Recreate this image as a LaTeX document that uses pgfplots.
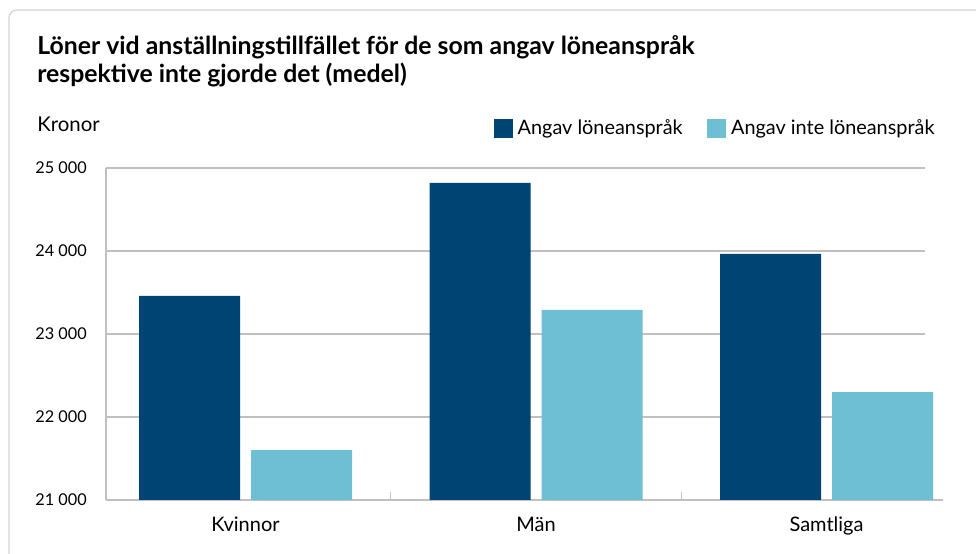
\documentclass[border=0pt]{standalone}
\usepackage{fontspec}
\setmainfont{Lato}
\usepackage{pgfplots}
\pgfplotsset{compat=1.18}
\definecolor{darkb}{HTML}{004474}
\definecolor{lightb}{HTML}{6EBED4}
\definecolor{gridg}{HTML}{C0C0C0}
\definecolor{boxg}{HTML}{D4D4D4}
\begin{document}
\begin{tikzpicture}
\path[use as bounding box] (0,0) rectangle (732pt,415.5pt);
\clip (0,0) rectangle (732pt,415.5pt);
\draw[boxg, line width=1pt, rounded corners=6pt] (6.75pt,-20pt) rectangle (760pt,408pt);
\node[anchor=base west, inner sep=0pt] at (27.75pt,374.25pt) {\fontsize{18.6}{20}\selectfont\bfseries Löner vid anställningstillfället för de som angav löneanspråk};
\node[anchor=base west, inner sep=0pt] at (27.75pt,353.5pt) {\fontsize{18.6}{20}\selectfont\bfseries respektive inte gjorde det (medel)};
\node[anchor=base west, inner sep=0pt] at (27.75pt,316.5pt) {\fontsize{15.3}{16}\selectfont Kronor};
\begin{axis}[
  at={(79.5pt,40.5pt)}, anchor=south west,
  scale only axis, width=627.75pt, height=249pt,
  xmin=-0.4802, xmax=2.4010, ymin=21000, ymax=25000,
  scaled y ticks=false,
  axis line style={draw=none}, tick style={draw=none}, major tick length=0pt,
  ytick={21000,22000,23000,24000,25000},
  yticklabels={21 000,22 000,23 000,24 000,25 000},
  xtick={0,1,2}, xticklabels={Kvinnor,Män,Samtliga},
  yticklabel style={anchor=east, inner sep=0pt, xshift=-14.25pt, font=\fontsize{12.2}{13}\selectfont},
  xticklabel style={anchor=base, inner sep=0pt, yshift=-23.5pt, font=\fontsize{15}{16}\selectfont},
  clip=false,
  legend style={at={(0.4636,1.1536)}, anchor=north west, draw=none, fill=none,
    inner sep=0pt, outer sep=0pt, font=\fontsize{14.9}{16}\selectfont,
    /tikz/every odd column/.style={column sep=1.5pt},
    /tikz/every even column/.style={column sep=16.5pt}},
  legend columns=2, legend cell align=left,
  legend image code/.code={\fill[#1] (0pt,-7.125pt) rectangle (14.25pt,7.125pt);},
]
\draw[gridg, line width=1.1pt] (axis cs:-0.4802,21000) -- (axis cs:-0.4802,25000);
\draw[gridg, line width=1.1pt] (axis cs:-0.4802,22000) -- (axis cs:2.339,22000);
\draw[gridg, line width=1.1pt] (axis cs:-0.4802,23000) -- (axis cs:2.339,23000);
\draw[gridg, line width=1.1pt] (axis cs:-0.4802,24000) -- (axis cs:2.339,24000);
\draw[gridg, line width=1.1pt] (axis cs:-0.4802,25000) -- (axis cs:2.339,25000);
\draw[gridg, line width=1.3pt] (axis cs:-0.4802,21000) -- (axis cs:2.401,21000);
\draw[gridg, line width=1pt] (axis cs:0.5,21000) -- ([yshift=6pt]axis cs:0.5,21000);
\draw[gridg, line width=1pt] (axis cs:1.5,21000) -- ([yshift=6pt]axis cs:1.5,21000);
\addplot[ybar, bar width=75.75pt, bar shift=-42pt, fill=darkb, draw=none] coordinates {(0,23460) (1,24820) (2,23965)};
\addlegendentry{Angav löneanspråk}
\addplot[ybar, bar width=75.75pt, bar shift=42pt, fill=lightb, draw=none] coordinates {(0,21600) (1,23290) (2,22300)};
\addlegendentry{Angav inte löneanspråk}
\end{axis}
\end{tikzpicture}
\end{document}
